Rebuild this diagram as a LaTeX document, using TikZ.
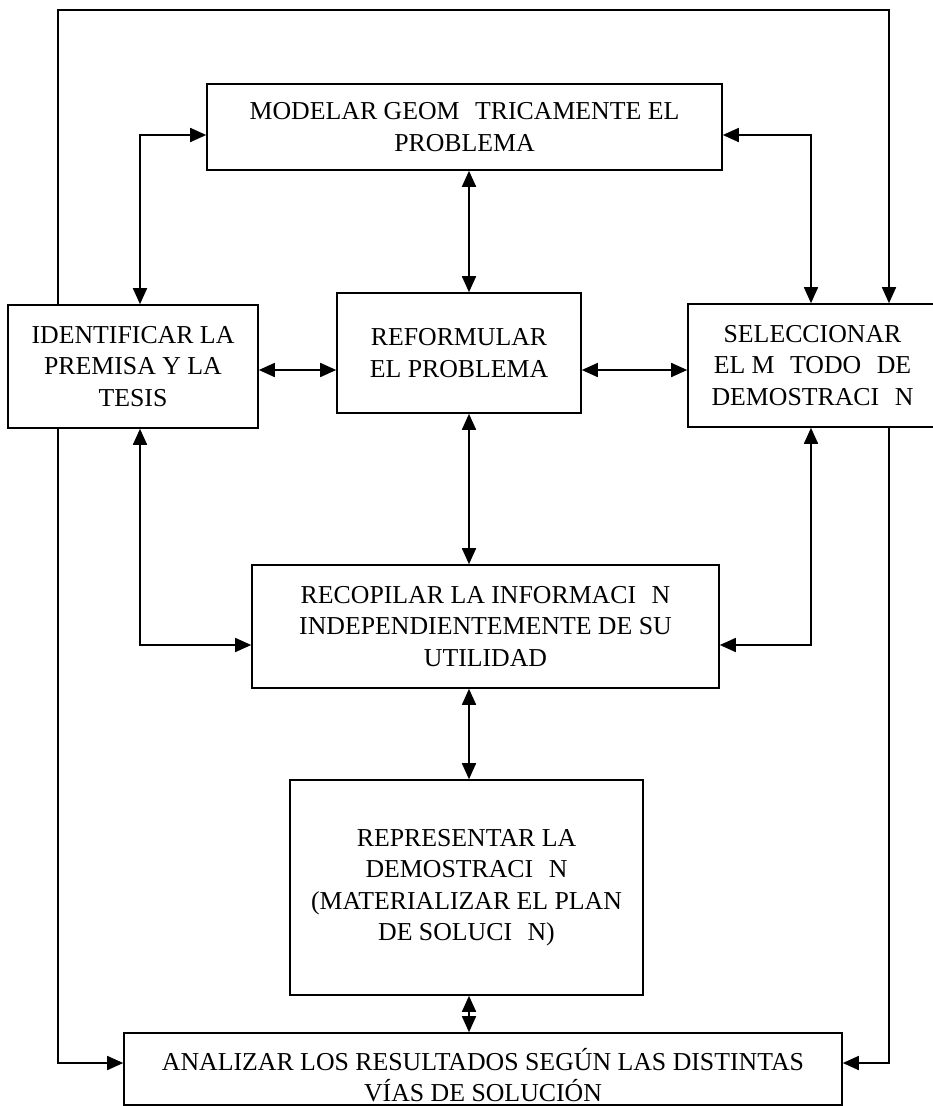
\documentclass[tikz,border=0pt]{standalone}
\usepackage{fontspec}
\setmainfont{Liberation Serif}
\usetikzlibrary{positioning, arrows.meta}

\newcommand{\hueco}{\hspace{0.6em}}
\tikzset{
    caja/.style={draw, line width=1.6pt, align=center, inner sep=0pt, font=\fontsize{25.8}{31.5}\selectfont},
    flecha/.style={line width=1.7pt, -{Triangle[length=16pt,width=14pt]}},
    dflecha/.style={line width=1.7pt, {Triangle[length=16pt,width=14pt]}-{Triangle[length=16pt,width=14pt]}}
}

\begin{document}
\begin{tikzpicture}[x=1pt,y=-1pt]
        \useasboundingbox (0,0) rectangle (933,1106);
        \node[caja, minimum width=515pt, minimum height=86pt] (modelar) at (464.5,127) {MODELAR GEOM\hueco TRICAMENTE EL\\PROBLEMA};
        \node[caja, minimum width=250pt, minimum height=123pt] (ident) at (133,366.5) {IDENTIFICAR LA\\PREMISA Y LA\\TESIS};
        \node[caja, minimum width=244pt, minimum height=120pt] (reform) at (459,353) {REFORMULAR\\EL PROBLEMA};
        \node[caja, minimum width=249pt, minimum height=123pt] (selec) at (812.5,365.5) {SELECCIONAR\\EL M\hueco TODO\hueco DE\\DEMOSTRACI\hueco N};
        \node[caja, minimum width=467pt, minimum height=123pt] (recop) at (485.5,626.5) {RECOPILAR LA INFORMACI\hueco N\\INDEPENDIENTEMENTE DE SU\\UTILIDAD};
        \node[caja, minimum width=353pt, minimum height=215pt] (repres) at (466.5,887.5) {REPRESENTAR LA\\DEMOSTRACI\hueco N\\(MATERIALIZAR EL PLAN\\DE SOLUCI\hueco N)};
        \node[caja, minimum width=718pt, minimum height=72pt] (analiz) at (483,1069) {\rule{0pt}{34pt}ANALIZAR LOS RESULTADOS SEGÚN LAS DISTINTAS\\VÍAS DE SOLUCIÓN};
        % puntos de paso
        \coordinate (tl) at (58,10);
        \coordinate (tr) at (889,10);
        \coordinate (ml) at (140,135);
        \coordinate (mr) at (811,135);
        \coordinate (cx) at (469,370);
        \coordinate (ry) at (140,645);
        \coordinate (ay) at (58,1063);
        % lazo exterior
        \draw[flecha] (ident.north -| tl) |- (tr) -- (selec.north -| tr);
        \draw[flecha] (ident.south -| tl) |- (analiz.west |- ay);
        \draw[flecha] (selec.south -| tr) |- (analiz.east |- ay);
        % flechas dobles
        \draw[dflecha] (ident.north -| ml) |- (modelar.west |- ml);
        \draw[dflecha] (modelar.east |- mr) -| (selec.north -| mr);
        \draw[dflecha] (modelar.south -| cx) -- (reform.north -| cx);
        \draw[dflecha] (ident.east |- cx) -- (reform.west |- cx);
        \draw[dflecha] (reform.east |- cx) -- (selec.west |- cx);
        \draw[dflecha] (reform.south -| cx) -- (recop.north -| cx);
        \draw[dflecha] (ident.south -| ry) |- (recop.west |- ry);
        \draw[dflecha] (selec.south -| mr) |- (recop.east |- ry);
        \draw[dflecha] (recop.south -| cx) -- (repres.north -| cx);
        \draw[dflecha] (repres.south -| cx) -- (analiz.north -| cx);
    \end{tikzpicture}
\end{document}
